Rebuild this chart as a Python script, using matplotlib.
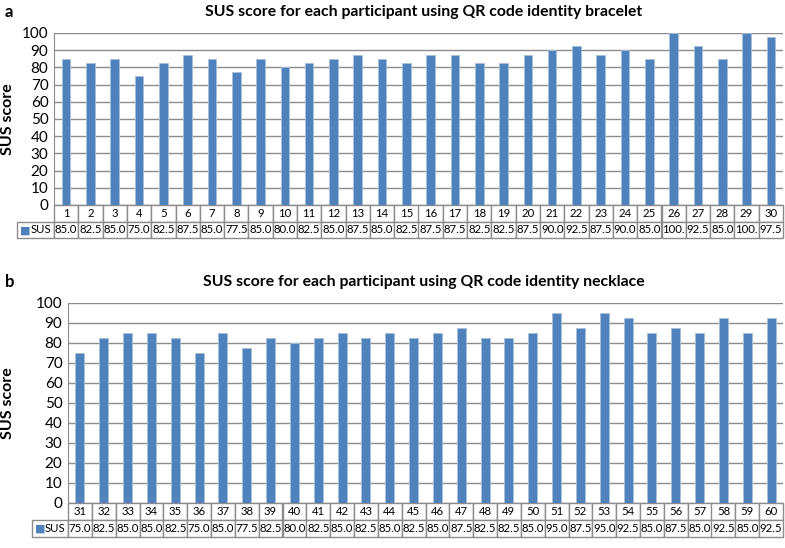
import matplotlib
matplotlib.use('Agg')
from matplotlib import pyplot as plt

plt.rcParams['font.family'] = ['Lato', 'DejaVu Sans']

# participants and SUS scores
ids_a = [str(i) for i in range(1, 31)]
sus_a = [85.0, 82.5, 85.0, 75.0, 82.5, 87.5, 85.0, 77.5, 85.0, 80.0,
         82.5, 85.0, 87.5, 85.0, 82.5, 87.5, 87.5, 82.5, 82.5, 87.5,
         90.0, 92.5, 87.5, 90.0, 85.0, 100.0, 92.5, 85.0, 100.0, 97.5]

ids_b = [str(i) for i in range(31, 61)]
sus_b = [75.0, 82.5, 85.0, 85.0, 82.5, 75.0, 85.0, 77.5, 82.5, 80.0,
         82.5, 85.0, 82.5, 85.0, 82.5, 85.0, 87.5, 82.5, 82.5, 85.0,
         95.0, 87.5, 95.0, 92.5, 85.0, 87.5, 85.0, 92.5, 85.0, 92.5]

titles = ['SUS score for each participant using QR code identity bracelet',
          'SUS score for each participant using QR code identity necklace']

BLUE = '#4F81BD'
GRID = '#8C8C8C'

W, H = 785, 548
fig = plt.figure(figsize=(W / 100, H / 100), dpi=100)


def fmt(v):
    s = '%.1f' % v
    return s[:4]  # excel cuts 100.0 to "100."


def panel(rect, ids, vals, title, letter, title_y, lab_w, tab_h, bar_w, ylab_x):
    ax = fig.add_axes(rect)
    x = range(len(vals))
    ax.bar(x, vals, width=bar_w, color=BLUE, edgecolor='#A7C0DE', linewidth=0.6, zorder=3)
    ax.set_xlim(-0.5, len(vals) - 0.5)
    ax.set_ylim(0, 100)
    ax.set_yticks(range(0, 101, 10))
    ax.tick_params(axis='y', length=0, pad=4, labelsize=11)
    ax.set_xticks([])
    ax.grid(axis='y', color=GRID, linewidth=1.0, zorder=0)
    for s in ['top', 'right', 'bottom']:
        ax.spines[s].set_visible(False)
    ax.spines['left'].set_color(GRID)
    ax.set_ylabel('SUS score', fontsize=11.5, fontweight='bold')
    ax.yaxis.set_label_coords(ylab_x, 0.5)

    n = len(vals)
    tab = ax.table(cellText=[[fmt(v) for v in vals]],
                   colLabels=ids, colWidths=[1.0 / n] * n,
                   cellLoc='center',
                   bbox=[0, -tab_h, 1, tab_h])
    hgt = tab[(1, 0)].get_height()
    tab.add_cell(1, -1, width=lab_w, height=hgt, text='SUS', loc='right')
    tab.auto_set_font_size(False)
    tab.set_fontsize(8.2)
    for (r, c), cell in tab.get_celld().items():
        cell.set_edgecolor(GRID)
        cell.set_linewidth(1.0)
        cell.PAD = 0.02
    tab[(1, -1)].PAD = 0.08
    # legend key in row label
    ax.text(-lab_w + 0.004, -tab_h * 0.75, '\u25a0', color=BLUE, fontsize=8,
            va='center', ha='left', transform=ax.transAxes)

    fig.text(424 / W, 1 - title_y / H, title, ha='center', va='center',
             fontsize=11.3, fontweight='bold')
    fig.text(5 / W, 1 - title_y / H, letter, ha='left', va='center',
             fontsize=12, fontweight='bold')
    return ax


panel([54 / W, 1 - 205 / H, 729 / W, 172 / H], ids_a, sus_a, titles[0], 'a',
      12, 37 / 729, 33 / 172, 0.35, -39 / 729)
panel([68 / W, 1 - 503 / H, 715 / W, 200 / H], ids_b, sus_b, titles[1], 'b',
      282, 36 / 715, 34 / 200, 0.38, -53 / 715)

fig.savefig('out.png', dpi=100)
